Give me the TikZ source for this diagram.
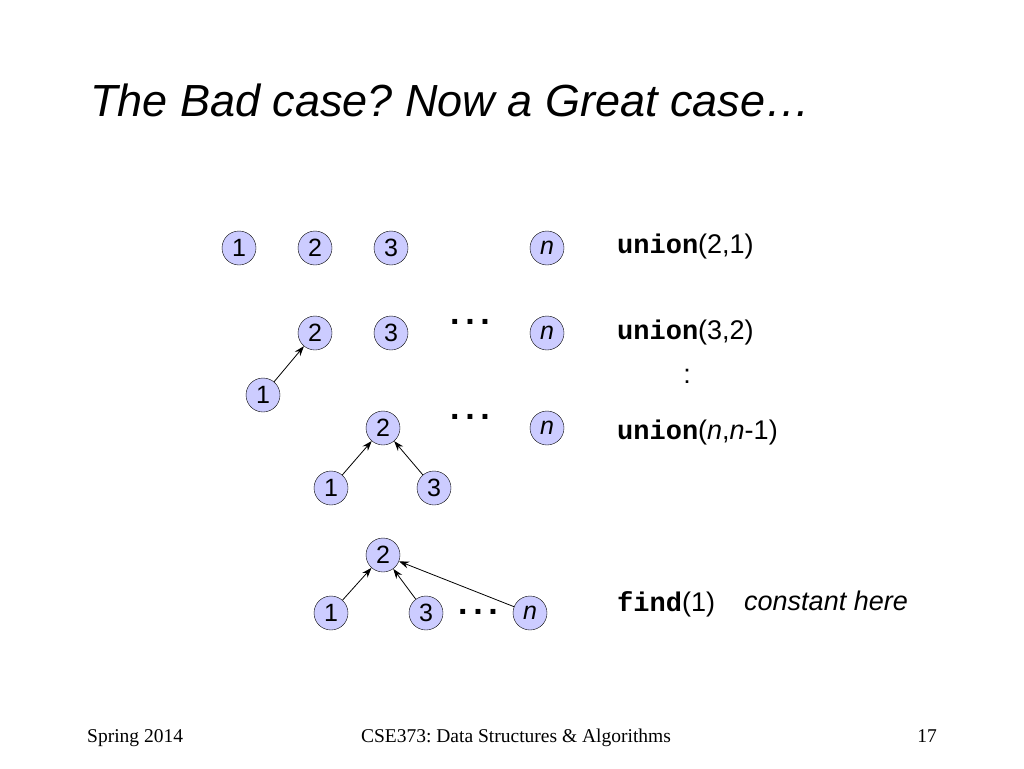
\documentclass[tikz,border=0pt]{standalone}
\usepackage{fontspec}
\setmainfont{Liberation Serif}
\setsansfont{Liberation Sans}
\setmonofont{Liberation Mono}
\usetikzlibrary{arrows.meta}
\definecolor{nodefill}{RGB}{204,204,255}
\tikzset{x=1pt,y=-1pt,
 vtx/.style={circle,draw,fill=nodefill,minimum size=34pt,inner sep=0pt,font=\sffamily\fontsize{25}{25}\selectfont},
 arr/.style={-{Stealth[length=10pt,width=7pt]},line width=0.8pt},
 lbl/.style={anchor=base west,font=\sffamily\fontsize{27}{27}\selectfont},
 dotsl/.style={font=\sffamily\bfseries\fontsize{34}{34}\selectfont}}
\newcommand{\cmd}[1]{{\ttfamily\bfseries #1}}
\frenchspacing
\begin{document}
\frenchspacing
\begin{tikzpicture}
\useasboundingbox (0,0) rectangle (1024,768);
\node[anchor=base west,font=\sffamily\itshape\fontsize{45}{45}\selectfont,inner sep=0pt] (title) at (90,116) {The Bad case? Now a Great case\ldots};
% row 1
\node[vtx] (a1) at (239,248) {1};
\node[vtx] (a2) at (315,248) {2};
\node[vtx] (a3) at (391,248) {3};
\node[vtx] (an) at (547,248) {\itshape n};
% row 2
\node[vtx] (b2) at (315,333) {2};
\node[vtx] (b3) at (391,333) {3};
\node[vtx] (bn) at (547,333) {\itshape n};
\node[vtx] (b1) at (263,395) {1};
\node[dotsl] (bd) at (470,322) {.\,.\,.};
\draw[arr] (b1) -- (b2);
% row 3
\node[vtx] (c2) at (383,428) {2};
\node[vtx] (cn) at (547,428) {\itshape n};
\node[vtx] (c1) at (331,488) {1};
\node[vtx] (c3) at (434,488) {3};
\node[dotsl] (cd) at (470,417) {.\,.\,.};
\draw[arr] (c1) -- (c2);
\draw[arr] (c3) -- (c2);
% row 4
\node[vtx] (d2) at (383,555) {2};
\node[vtx] (d1) at (331,613) {1};
\node[vtx] (d3) at (426,613) {3};
\node[vtx] (dn) at (530,613) {\itshape n};
\node[dotsl] (dd) at (478,612) {.\,.\,.};
\draw[arr] (d1) -- (d2);
\draw[arr] (d3) -- (d2);
\draw[arr] (dn) -- (d2);
% labels
\node[lbl,inner sep=0pt] (l1) at (617,253) {\cmd{union}(2,1)};
\node[lbl,inner sep=0pt] (l2) at (617,339) {\cmd{union}(3,2)};
\node[font=\sffamily\fontsize{27}{27}\selectfont] (l3) at (687,376) {:};
\node[lbl,inner sep=0pt] (l4) at (617,439) {\cmd{union}(\textit{n},\textit{n}-1)};
\node[lbl,inner sep=0pt] (l5) at (617,611) {\cmd{find}(1)};
\node[lbl,inner sep=0pt,font=\sffamily\itshape\fontsize{27}{27}\selectfont] (l6) at (744,610) {constant here};
% footer
\node[anchor=base west,inner sep=0pt,font=\fontsize{19.5}{19.5}\selectfont] (f1) at (87,742) {Spring 2014};
\node[anchor=base,inner sep=0pt,font=\fontsize{19.5}{19.5}\selectfont] (f2) at (516,742) {CSE373: Data Structures \& Algorithms};
\node[anchor=base east,inner sep=0pt,font=\fontsize{19.5}{19.5}\selectfont] (f3) at (937,742) {17};
\end{tikzpicture}
\end{document}
